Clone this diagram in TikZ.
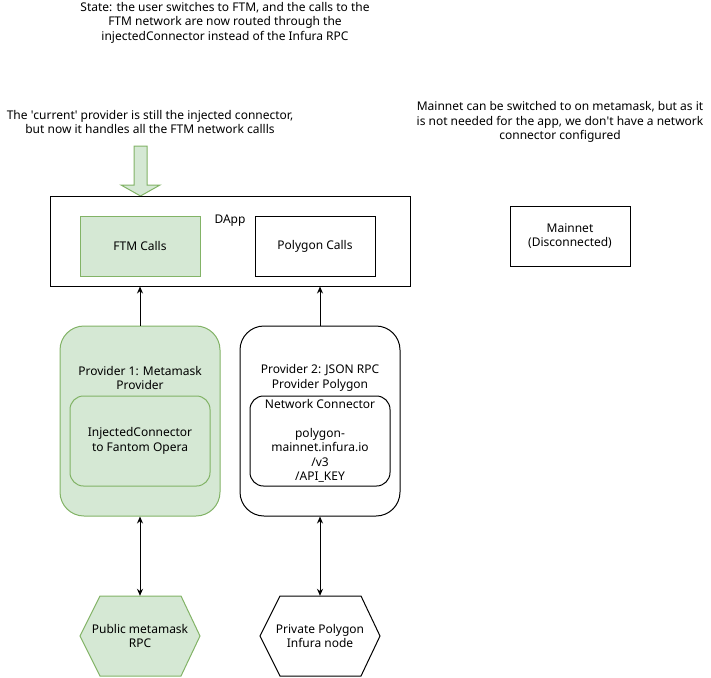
\documentclass[tikz,border=0pt]{standalone}
\usepackage{fontspec}
\setmainfont{Noto Sans}
\usetikzlibrary{arrows.meta}
\definecolor{gfill}{HTML}{D5E8D4}
\definecolor{gline}{HTML}{82B366}
\begin{document}
\begin{tikzpicture}[x=1pt,y=-1pt,
  every node/.style={font=\fontsize{12}{14.4}\selectfont, align=center, inner sep=0pt},
  plainbox/.style={draw=black, line width=1pt, fill=white},
  greenbox/.style={draw=gline, line width=1pt, fill=gfill},
  arr/.style={line width=1pt, -{Stealth[length=7pt,width=6pt]}},
  darr/.style={line width=1pt, {Stealth[length=7pt,width=6pt]}-{Stealth[length=7pt,width=6pt]}},
  txt/.style={}]
\useasboundingbox (0,0) rectangle (711,677);

% notes
\node[txt] (title) at (225,22.5) {State: the user switches to FTM, and the calls to the\\FTM network are now routed through the\\injectedConnector instead of the Infura RPC};
\node[txt] (note1) at (150,122) {The \textquotesingle current\textquotesingle{} provider is still the injected connector,\\but now it handles all the FTM network callls};
\node[txt] (note2) at (560,122) {Mainnet can be switched to on metamask, but as it\\is not needed for the app, we don\textquotesingle t have a network\\connector configured};

% block arrow
\draw[greenbox] (134,146) -- (147,146) -- (147,185) -- (160,185) -- (140.5,196) -- (121,185) -- (134,185) -- cycle;

% DApp
\node[plainbox, minimum width=360pt, minimum height=90pt] (dapp) at (230,241) {};
\node[txt] (dapplabel) at (230,221) {DApp};
\node[greenbox, minimum width=120pt, minimum height=60pt] (ftm) at (140,246) {FTM Calls};
\node[plainbox, minimum width=120pt, minimum height=60pt] (poly) at (315,246) {Polygon Calls};

% Mainnet
\node[plainbox, minimum width=120pt, minimum height=60pt] (mainnet) at (570,236) {Mainnet\\(Disconnected)};

% Providers
\node[greenbox, rounded corners=24pt, minimum width=160pt, minimum height=190pt] (p1) at (140,421) {};
\node[txt] (p1label) at (140,378) {Provider 1: Metamask\\Provider};
\node[greenbox, rounded corners=13.5pt, minimum width=140pt, minimum height=90pt] (inj) at (140,441) {InjectedConnector\\to Fantom Opera};

\node[plainbox, rounded corners=24pt, minimum width=160pt, minimum height=190pt] (p2) at (320,421) {};
\node[txt] (p2label) at (320,378) {Provider 2: JSON RPC\\Provider Polygon};
\node[plainbox, rounded corners=13.5pt, minimum width=140pt, minimum height=90pt] (netc) at (320,441) {};
\node[txt] (netctext) at (320,441) {Network Connector\\[14.4pt]polygon-\\mainnet.infura.io\\/v3\\/API\_KEY};

% hexagons
\draw[greenbox] (80,636) -- (100,596) -- (181,596) -- (200,636) -- (181,676) -- (100,676) -- cycle;
\node[minimum width=120pt, minimum height=80pt] (hex1) at (140,636) {Public metamask\\RPC};
\draw[plainbox] (260,636) -- (280,596) -- (361,596) -- (380,636) -- (361,676) -- (280,676) -- cycle;
\node[minimum width=120pt, minimum height=80pt] (hex2) at (320,636) {Private Polygon\\Infura node};

% connectors
\draw[arr] (p1.north) -- (p1.north |- dapp.south);
\draw[arr] (p2.north) -- (p2.north |- dapp.south);
\draw[darr] (p1.south) -- (hex1.north);
\draw[darr] (p2.south) -- (hex2.north);
\end{tikzpicture}
\end{document}
